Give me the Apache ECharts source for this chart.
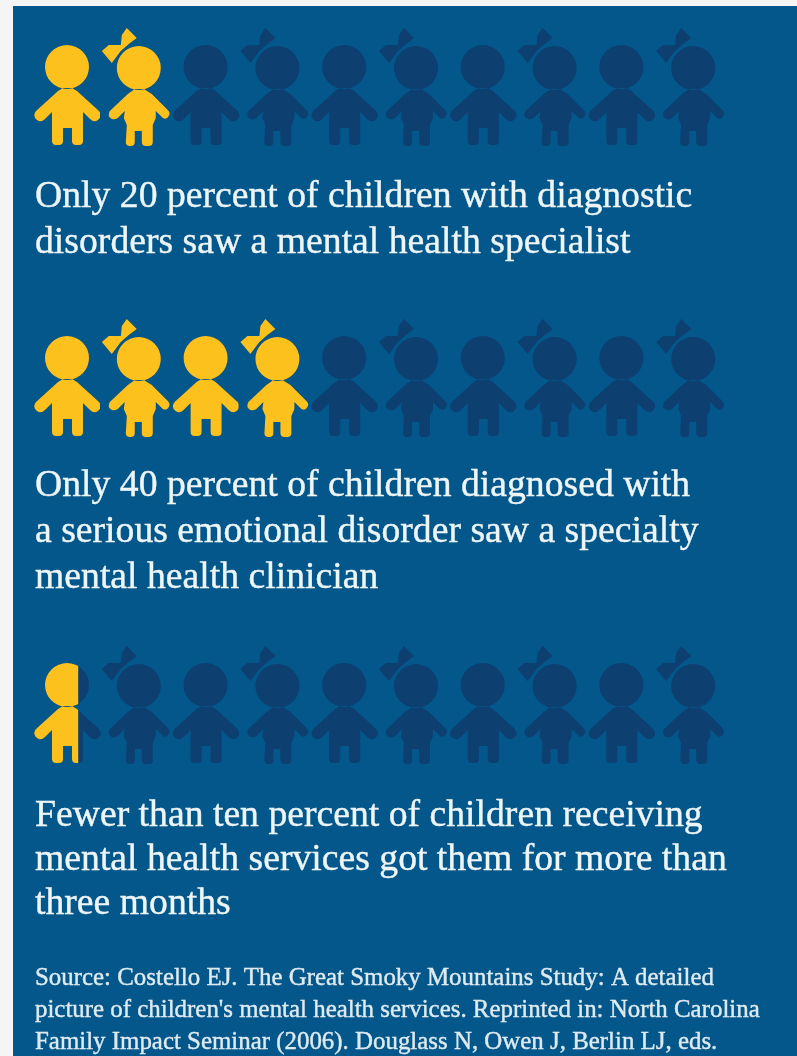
<!DOCTYPE html>
<html>
<head>
<meta charset="utf-8">
<title>Children's mental health services</title>
<script src="https://cdn.jsdelivr.net/npm/echarts@6/dist/echarts.min.js"></script>
<style>
html,body{margin:0;padding:0;background:#f5f5f5;}
#chart{width:797px;height:1056px;}
</style>
</head>
<body>
<div id="chart"></div>
<script>
// One figure per ten percent of children, alternating boy and girl
const childKinds = ['boy','girl','boy','girl','boy','girl','boy','girl','boy','girl'];
const servedPercent = [20, 40, 6.7];
const percentPerChild = 10;

const rowCaptions = [
  'Only 20 percent of children with diagnostic\ndisorders saw a mental health specialist',
  'Only 40 percent of children diagnosed with\na serious emotional disorder saw a specialty\nmental health clinician',
  'Fewer than ten percent of children receiving\nmental health services got them for more than\nthree months'
];
const sourceNote = "Source: Costello EJ. The Great Smoky Mountains Study: A detailed\npicture of children's mental health services. Reprinted in: North Carolina\nFamily Impact Seminar (2006). Douglass N, Owen J, Berlin LJ, eds.";

const COLORS = { panel:'#03578a', muted:'#0d3f70', lit:'#fdc11e', text:'#eef5f6', note:'#dfeaf0' };
const SERIF = '"Liberation Serif", serif';

// Glyphs are drawn around the centre of the head
const HEAD = 'M-22 0A22 22 0 1 1 22 0A22 22 0 1 1 -22 0Z';
const BOY_BODY = 'M-4 21L-9 24L-31 44Q-35 49 -30 53Q-26 56 -22 52L-15 45L-15 74Q-15 78 -11 78L-8 78Q-4 78 -4 74L-4 61L5 61L5 74Q5 78 9 78L12 78Q16 78 16 74L16 45L23 52Q27 56 31 53Q36 49 32 44L10 24L5 21Z';
const GIRL_BODY = 'M-4 21L-11 26L-29 43Q-32 48 -27 51Q-24 52 -21 50L-14 43L-15 50L-12 57L-13 74Q-13 78 -9 78L-8 78Q-4 78 -4 74L-4 63L3 63L3 74Q3 78 7 78L10 78Q14 78 14 74L14 57L17 50L17 43L24 50Q28 52 30 48Q32 45 29 42L13 26L5 21Z';
const GIRL_BOW = 'M-37 -17L-30 -23L-18 -23L-17 -33L-12 -40L-2 -30L-10 -24L-18 -17L-27 -5Z';
const GLYPHS = {
  boy: { path: HEAD + BOY_BODY, dx: 0, dy: 0 },
  girl: { path: HEAD + GIRL_BODY + GIRL_BOW, dx: 2.5, dy: 1 }
};
const GLYPH_LEFT = -33, GLYPH_WIDTH = 66;

const rowTop = [37, 328, 655];
const rowHeight = 60;

function renderChild(params, api) {
  const index = api.value(0);
  const fill = api.value(2);
  const pos = api.coord([index, api.value(1)]);
  const glyph = GLYPHS[childKinds[index]];
  const children = [{ type:'path', shape:{ pathData:glyph.path }, style:{ fill:COLORS.muted } }];
  if (fill > 0) {
    children.push({
      type:'path',
      shape:{ pathData:glyph.path },
      style:{ fill:COLORS.lit },
      clipPath:{ type:'rect', shape:{ x:GLYPH_LEFT-8, y:-45, width:8+GLYPH_WIDTH*fill, height:130 } }
    });
  }
  return { type:'group', x:pos[0]+glyph.dx, y:pos[1]+glyph.dy, children };
}

const grids = rowTop.map(top => ({ left:32.35, width:693, top, height:rowHeight }));
const xAxes = rowTop.map((_, i) => ({ type:'category', gridIndex:i, data:childKinds, show:false }));
const yAxes = rowTop.map((_, i) => ({ type:'value', gridIndex:i, min:0, max:1, show:false }));
const series = servedPercent.map((pct, r) => ({
  type:'custom',
  xAxisIndex:r, yAxisIndex:r,
  clip:false,
  silent:true,
  renderItem:renderChild,
  encode:{ x:0, y:1 },
  data:childKinds.map((_, i) => [i, 0.5, Math.max(0, Math.min(1, (pct - i*percentPerChild)/percentPerChild))])
}));

const captionStyle = (size, lineHeight, color) => ({
  fontFamily:SERIF, fontWeight:'normal', fontSize:size, lineHeight, color,
  textBorderColor:color, textBorderWidth:0.4
});
const captionTop = [174, 463, 794];
const titles = rowCaptions.map((text, i) => ({
  text, left:35, top:captionTop[i], padding:0,
  textStyle:captionStyle(37.7, i===2 ? 44 : 46, COLORS.text)
}));
titles.push({ text:sourceNote, left:35, top:962, padding:0, textStyle:captionStyle(24.9, 32, COLORS.note) });

const chart = echarts.init(document.getElementById('chart'), null, { renderer:'canvas' });
chart.setOption({
  animation:false,
  backgroundColor:'#f5f5f5',
  graphic:[{ type:'rect', z:-10, silent:true, shape:{ x:13, y:6, width:784, height:1050 }, style:{ fill:COLORS.panel } }],
  title:titles,
  grid:grids,
  xAxis:xAxes,
  yAxis:yAxes,
  series
});
</script>
</body>
</html>
